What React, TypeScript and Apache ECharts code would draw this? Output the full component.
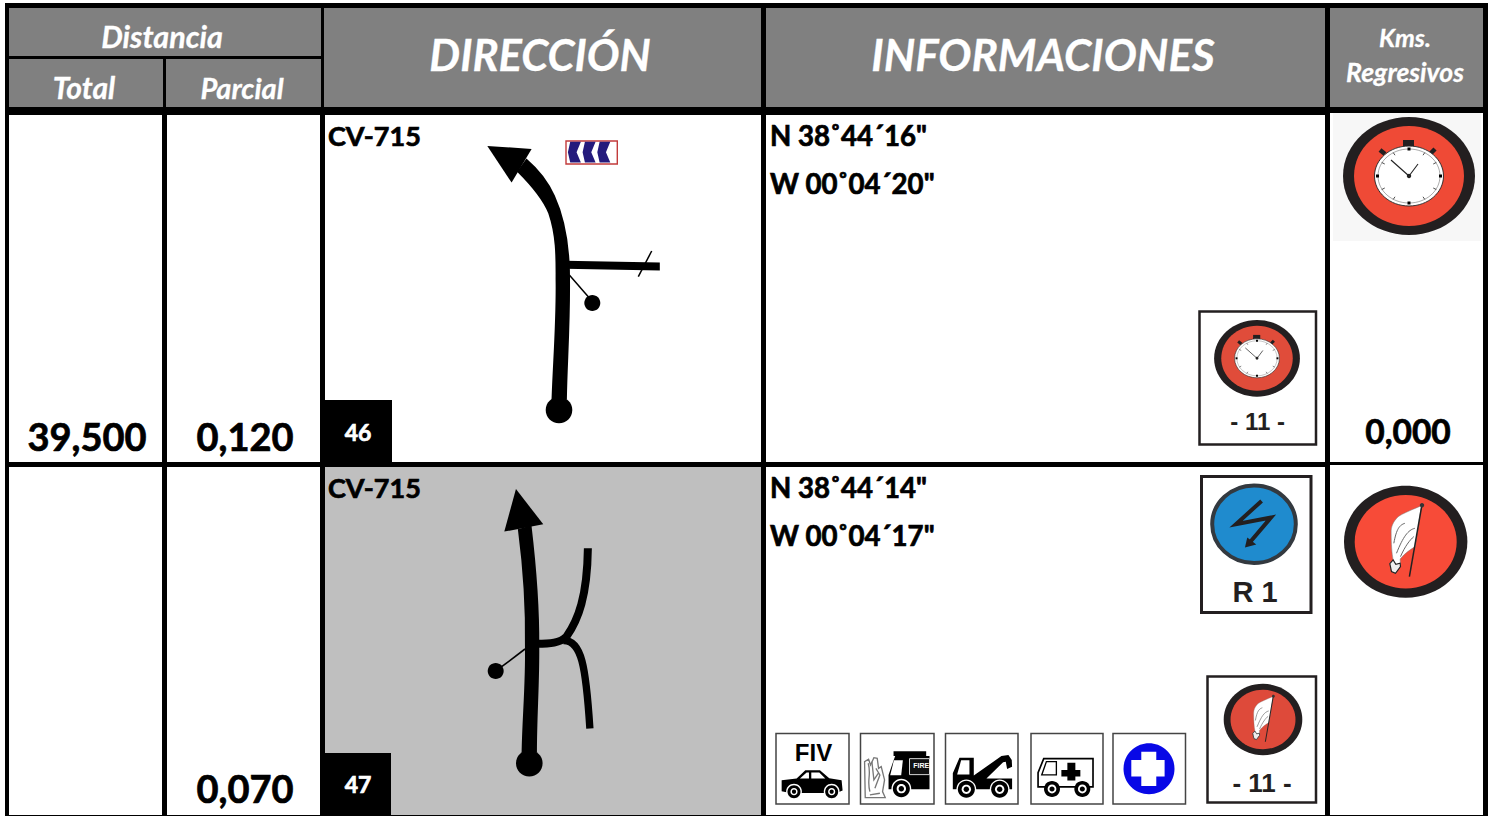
import React, { useEffect, useRef } from "react";
import * as echarts from "echarts";

const totals = ["39,500", ""];
const partials = ["0,120", "0,070"];
const roads = ["CV-715", "CV-715"];
const notes = ["46", "47"];
const latitudes = ['N 38˚44´16"', 'N 38˚44´14"'];
const longitudes = ['W 00˚04´20"', 'W 00˚04´17"'];
const regressive = ["0,000", ""];
const headers = ["Distancia", "Total", "Parcial", "DIRECCIÓN", "INFORMACIONES", "Kms.", "Regresivos"];
const signLabels = ["- 11 -", "R 1", "- 11 -", "FIV", "FIRE"];

const LATO = "Lato";
const ARIAL = "'Liberation Sans'";
const INK = "#000";
const DARK = "#231f20";

const SHAPES: Record<string, string> = {
  road1Main:
    "M248 835 C252 720 262 600 260 480 C260 420 262 350 238 280 C220 235 185 195 145 155 L170 120 C205 150 235 190 252 228 C285 300 295 380 297 450 C300 600 290 720 288 835 Z",
  road1Arrow: "M52 78 L185 87 L125 188 Z",
  road1Side: "M285 423 L570 428 L570 452 L285 447 Z",
  road2Main:
    "M158 845 C160 740 170 640 168 530 C170 400 160 280 147 180 L182 170 C195 280 206 400 205 530 C206 640 198 740 198 845 Z",
  road2Arrow: "M138 57 L220 163 L103 185 Z",
  road2Upper: "M200 522 C240 522 270 520 290 500 C325 450 352 380 354 235",
  road2Lower: "M280 512 C335 510 348 590 360 776",
  chevron: "M301 65 L333 65 L320 97 L333 128 L301 128 L294 97 Z",
  car: "M35 166 L80 161 L106 136 L150 136 L178 160 L215 166 L218 197 L200 204 L60 204 L35 199 Z",
  carGlass: "M90 161 L110 143 L117 143 L117 161 Z M124 143 L148 143 L166 161 L124 161 Z",
  flame:
    "M286 218 L284 110 L296 103 L302 120 L312 98 L322 100 L326 130 L334 125 L344 165 L338 200 L346 218 Z",
  flameInner:
    "M295 115 C305 150 290 165 300 200 M306 110 L312 165 L325 145 M315 190 L330 150 L318 130 M300 210 L330 205",
  truckBar: "M371 79 L469 79 L469 93 L371 93 Z",
  truckBody: "M376 93 L479 93 L479 193 L356 193 L356 150 L374 98 Z",
  truckGlass: "M372 106 L399 106 L394 151 L361 151 Z",
  truckPanel: "M419 101 L479 101 L479 149 L419 149 Z",
  towTruck:
    "M569 98 L612 98 L612 152 L695 93 L716 90 L726 105 L727 125 L712 132 L708 110 L700 112 L650 161 L727 161 L727 193 L549 193 L549 145 Z",
  towGlass: "M574 106 L599 106 L599 149 L562 149 Z",
  ambulance: "M822 101 L970 101 L970 186 L805 186 L805 143 Z",
  ambGlass: "M830 110 L816 150 L860 150 L860 110 Z",
  cross:
    "M1115 80 L1160 80 L1160 105 L1185 105 L1185 155 L1160 155 L1160 183 L1115 183 L1115 155 L1085 155 L1085 105 L1115 105 Z",
  medCross:
    "M893 113 L917 113 L917 135 L932 135 L932 155 L917 155 L917 167 L893 167 L893 155 L875 155 L875 135 L893 135 Z",
  flagCloth:
    "M695 122 C665 135 640 145 625 155 C610 170 603 185 604 205 C604 235 606 265 610 285 L600 296 L605 320 L617 325 L632 305 L631 282 C645 265 660 255 676 245 Z",
  flagStreaks: "M612 235 C620 190 630 180 645 175 M620 265 C640 215 655 195 675 190 M632 275 C645 245 660 225 672 215",
  flagTassel: "M610 285 L600 296 L605 320 L617 325 L632 305 L631 295 L618 298 Z",
  bolt: "M215 108 L138 178 L243 158 L180 232",
  boltHead: "M165 248 L172 218 L199 239 Z",
};
Object.keys(SHAPES).forEach((k) => {
  echarts.graphic.registerShape(k, echarts.graphic.extendPath(SHAPES[k], {} as any) as any);
});

function rect(x0: number, y0: number, x1: number, y1: number, fill: string) {
  return { type: "rect", shape: { x: x0, y: y0, width: x1 - x0, height: y1 - y0 }, style: { fill } };
}
function frame(x0: number, y0: number, x1: number, y1: number, lw: number, stroke = DARK) {
  return {
    type: "rect",
    shape: { x: x0, y: y0, width: x1 - x0, height: y1 - y0 },
    style: { fill: "#fff", stroke, lineWidth: lw },
  };
}
function txt(t: string, x: number, y: number, size: number, opts: any = {}) {
  const fill = opts.fill || INK;
  const isLato = !opts.family;
  return {
    type: "text",
    x,
    y: isLato ? y - 1 : y,
    style: {
      text: t,
      fontFamily: opts.family || LATO,
      fontSize: size,
      fontWeight: "bold",
      fontStyle: opts.italic ? "italic" : "normal",
      fill,
      stroke: isLato ? fill : undefined,
      lineWidth: isLato ? (opts.italic ? 0.3 : 0.7) : 0,
      align: opts.align || "center",
      verticalAlign: "middle",
    },
  };
}
function ell(cx: number, cy: number, rx: number, ry: number, fill: string, extra: any = {}) {
  return { type: "ellipse", shape: { cx, cy, rx, ry }, style: { fill, ...extra } };
}
function pth(name: string, ox: number, oy: number, s: number, style: any) {
  return { type: name, x: ox, y: oy, scaleX: s, scaleY: s, style };
}
function seg(x1: number, y1: number, x2: number, y2: number, lw: number, stroke = INK) {
  return { type: "line", shape: { x1, y1, x2, y2 }, style: { stroke, lineWidth: lw } };
}

function stopwatch(cx: number, cy: number, s: number, red: string) {
  const ticks: any[] = [];
  for (let i = 0; i < 12; i++) {
    const a = (i * Math.PI) / 6;
    const card = i % 3 === 0;
    const rx = 31.5;
    const ry = 27;
    if (card) {
      ticks.push({
        type: "rect",
        shape: { x: Math.sin(a) * rx - 1.5, y: -Math.cos(a) * ry - 1.5, width: 3, height: 3 },
        style: { fill: INK },
      });
    } else {
      ticks.push(seg(Math.sin(a) * rx, -Math.cos(a) * ry, Math.sin(a) * 28, -Math.cos(a) * 24, 0.8, "#222"));
    }
  }
  return {
    type: "group",
    x: cx,
    y: cy,
    scaleX: s,
    scaleY: s,
    children: [
      ell(0, 0, 66, 59, DARK),
      ell(0, 0, 55, 50, red),
      seg(-29, -26, -24, -22, 4.5, DARK),
      seg(26, -27, 21, -22, 4.5, DARK),
      rect(-6, -36, 5, -29, DARK),
      ell(0, 0, 34.5, 30, "#fff", { stroke: "#222", lineWidth: 0.9 }),
      ell(0, 0, 31, 27, "#fff", { stroke: "#555", lineWidth: 0.5 }),
      ...ticks,
      seg(0, 0, -18, -16, 1.1, "#222"),
      seg(0, 0, 9, -12, 1.1, "#222"),
      ell(0, 0, 2.2, 2.2, "#222"),
    ],
  };
}

function flag(cx: number, cy: number, s: number, red: string) {
  const ox = -647 / 3;
  const oy = -230 / 3;
  return {
    type: "group",
    x: cx,
    y: cy,
    scaleX: s,
    scaleY: s,
    children: [
      ell(0, 0, 61.7, 56, DARK),
      ell(0, 0, 51, 46.7, red),
      pth("flagCloth", ox, oy, 1 / 3, { fill: "#fff", stroke: "#777", lineWidth: 1.5 }),
      pth("flagTassel", ox, oy, 1 / 3, { fill: "#eee", stroke: "#222", lineWidth: 3.5 }),
      pth("flagStreaks", ox, oy, 1 / 3, { fill: "none", stroke: "#666", lineWidth: 3 }),
      seg(16, -35.5, 3.7, 35, 1.5, "#222"),
      ell(16.3, -36.5, 2.2, 2.2, "#333"),
    ],
  };
}

function wheel(x: number, y: number, r: number, halo = true) {
  const ox = 770;
  const oy = 725;
  const cx = ox + x / 3;
  const cy = oy + y / 3;
  return [
    ...(halo ? [ell(cx, cy, r + 1.4, r + 1.4, "#fff")] : []),
    ell(cx, cy, r, r, INK),
    ell(cx, cy, r * 0.55, r * 0.55, "#fff"),
    ell(cx, cy, r * 0.32, r * 0.32, INK),
  ];
}

function buildGraphic() {
  const S = 1 / 3;
  const els: any[] = [];
  els.push(rect(0, 0, 1494, 816, "#fff"));
  els.push(rect(5, 3, 1488, 816, INK));

  // header cells
  const grey = "#808080";
  els.push(rect(9, 8, 321, 56, grey));
  els.push(rect(9, 59, 163, 107, grey));
  els.push(rect(166, 59, 321, 107, grey));
  els.push(rect(324, 8, 761, 107, grey));
  els.push(rect(766, 8, 1325, 107, grey));
  els.push(rect(1330, 8, 1483, 107, grey));

  // body cells
  [
    [115, 462],
    [467, 815],
  ].forEach(([y0, y1], r) => {
    els.push(rect(9, y0, 162, y1, "#fff"));
    els.push(rect(167, y0, 320, y1, "#fff"));
    els.push(rect(325, y0, 761, y1, r === 1 ? "#bfbfbf" : "#fff"));
    els.push(rect(766, y0, 1325, y1, "#fff"));
    els.push(rect(1330, y0 - 2, 1483, y1, "#fff"));
  });

  // header texts
  const white = { fill: "#fff", italic: true };
  els.push(txt(headers[0], 162, 37, 30.5, white));
  els.push(txt(headers[1], 84, 88, 30, white));
  els.push(txt(headers[2], 242, 88, 29, white));
  els.push(txt(headers[3], 540, 55, 43.5, white));
  els.push(txt(headers[4], 1043, 55, 44, white));
  els.push(txt(headers[5], 1405, 38, 25, white));
  els.push(txt(headers[6], 1405, 73, 26.5, white));

  // row texts
  [
    [0, 437, 136, 184, 433, 432],
    [1, 789, 488, 536, 785, 0],
  ].forEach(([r, yv, yl, yw, yn, yk]) => {
    if (totals[r]) els.push(txt(totals[r], 87, yv, 38));
    els.push(txt(partials[r], 245, yv, 38));
    els.push(txt(roads[r], 328, yl, 27, { align: "left" }));
    els.push(rect(325, r === 0 ? 400 : 753, r === 0 ? 392 : 391, r === 0 ? 462 : 815, INK));
    els.push(txt(notes[r], 358, yn, 23, { fill: "#fff" }));
    els.push(txt(latitudes[r], 770, yl, 27.6, { align: "left" }));
    els.push(txt(longitudes[r], 770, yw, 27.6, { align: "left" }));
    if (regressive[r]) els.push(txt(regressive[r], 1408, yk, 33.5));
  });

  // road 1
  const bk = { fill: INK };
  const bkS = { fill: INK, stroke: INK, lineWidth: 6 };
  els.push(pth("road1Side", 470, 120, S, bk));
  els.push(pth("road1Main", 470, 120, S, bkS));
  els.push(pth("road1Arrow", 470, 120, S, bk));
  els.push(ell(559, 410, 13.3, 13.3, INK));
  els.push(seg(638.3, 276.7, 651.7, 251, 1.5));
  els.push(seg(569.3, 275, 588.3, 296.7, 1.5));
  els.push(ell(592.3, 303, 8, 8, INK));

  // chevron sign
  els.push({
    type: "rect",
    shape: { x: 566, y: 141, width: 51.3, height: 23 },
    style: { fill: "#fff", stroke: "#c23b3b", lineWidth: 1.4 },
  });
  [0, 14.7, 29.4].forEach((dx) => {
    els.push(pth("chevron", 470 + dx, 120, S, { fill: "#241a7c" }));
  });

  // road 2
  const o2x = 470;
  const o2y = 470;
  els.push(pth("road2Main", o2x, o2y, S, bkS));
  els.push(pth("road2Arrow", o2x, o2y, S, bk));
  els.push(pth("road2Upper", o2x, o2y, S, { fill: "none", stroke: INK, lineWidth: 24 }));
  els.push(pth("road2Lower", o2x, o2y, S, { fill: "none", stroke: INK, lineWidth: 22 }));
  els.push(ell(529.3, 763.3, 13.3, 13.3, INK));
  els.push(seg(525, 649, 501.7, 666.7, 1.6));
  els.push(ell(495.7, 671, 8, 8, INK));

  // big watch and flag
  els.push(rect(1333, 113, 1481, 241, "#f7f7f7"));
  els.push(stopwatch(1409, 176, 1, "#ef4a36"));
  els.push(flag(1405.7, 541.7, 1, "#f74b38"));

  // watch card
  els.push(frame(1199.5, 311.5, 1316, 444.5, 2.5));
  els.push(stopwatch(1257, 358.3, 0.65, "#e04c3a"));
  els.push(txt(signLabels[0], 1257.7, 421, 24, { family: ARIAL, fill: DARK }));

  // blue card
  els.push(frame(1201.5, 476.5, 1311, 612.5, 3));
  els.push(ell(1254, 524.2, 41.8, 38.8, "#1f8bce", { stroke: "#33393f", lineWidth: 4 }));
  els.push(pth("bolt", 1190, 465, S, { fill: "none", stroke: DARK, lineWidth: 12 }));
  els.push(pth("boltHead", 1190, 465, S, { fill: DARK }));
  els.push(txt(signLabels[1], 1255, 592, 29, { family: ARIAL, fill: DARK }));

  // flag card
  els.push(frame(1207.5, 676.5, 1316, 802.5, 2.5));
  els.push(flag(1263, 719.5, 0.637, "#de4a3a"));
  els.push(txt(signLabels[2], 1262, 783, 26, { family: ARIAL, fill: DARK }));

  // service cards
  const oX = 770;
  const oY = 725;
  [
    [776, 849],
    [860.5, 934],
    [945.5, 1018],
    [1031, 1103],
    [1113, 1185.5],
  ].forEach(([a, b]) => els.push(frame(a, 733.5, b, 804, 1.5, "#444")));

  els.push(txt(signLabels[3], 813.5, 752.5, 24, { family: ARIAL, fill: INK }));
  els.push(pth("car", oX, oY, S, bk));
  els.push(pth("carGlass", oX, oY, S, { fill: "#fff" }));
  els.push(...wheel(72, 200, 6.5), ...wheel(185, 200, 6.5));

  els.push(pth("flame", oX, oY, S, { fill: "#fff", stroke: "#777", lineWidth: 4 }));
  els.push(pth("flameInner", oX, oY, S, { fill: "none", stroke: "#777", lineWidth: 4 }));
  els.push(pth("truckBar", oX, oY, S, bk));
  els.push(pth("truckBody", oX, oY, S, bk));
  els.push(pth("truckGlass", oX, oY, S, { fill: "#fff" }));
  els.push(pth("truckPanel", oX, oY, S, { fill: "#111", stroke: "#fff", lineWidth: 2.5 }));
  els.push(txt(signLabels[4], 921.3, 765.3, 7, { family: ARIAL, fill: "#fff" }));
  els.push(...wheel(394, 191, 8.5));

  els.push(pth("towTruck", oX, oY, S, bk));
  els.push(pth("towGlass", oX, oY, S, { fill: "#fff" }));
  els.push(...wheel(589, 193, 8.5), ...wheel(689, 193, 8.5));

  els.push(pth("ambulance", oX, oY, S, { fill: "#fff", stroke: INK, lineWidth: 5 }));
  els.push(pth("ambGlass", oX, oY, S, { fill: "#fff", stroke: INK, lineWidth: 4 }));
  els.push(pth("medCross", oX, oY, S, bk));
  els.push(...wheel(846, 192, 8, false), ...wheel(937, 192, 8, false));

  els.push(ell(1149, 768.7, 25.5, 25.5, "#0808e6"));
  els.push(pth("cross", oX, oY, S, { fill: "#fff" }));

  return els;
}

export default function App() {
  const ref = useRef<HTMLDivElement>(null);
  useEffect(() => {
    const chart = echarts.init(ref.current!, undefined, { renderer: "svg" });
    chart.setOption({
      animation: false,
      backgroundColor: "#fff",
      graphic: { elements: buildGraphic() },
    });
    return () => chart.dispose();
  }, []);
  return <div ref={ref} style={{ position: "fixed", left: 0, top: 0, width: 1494, height: 816 }} />;
}
